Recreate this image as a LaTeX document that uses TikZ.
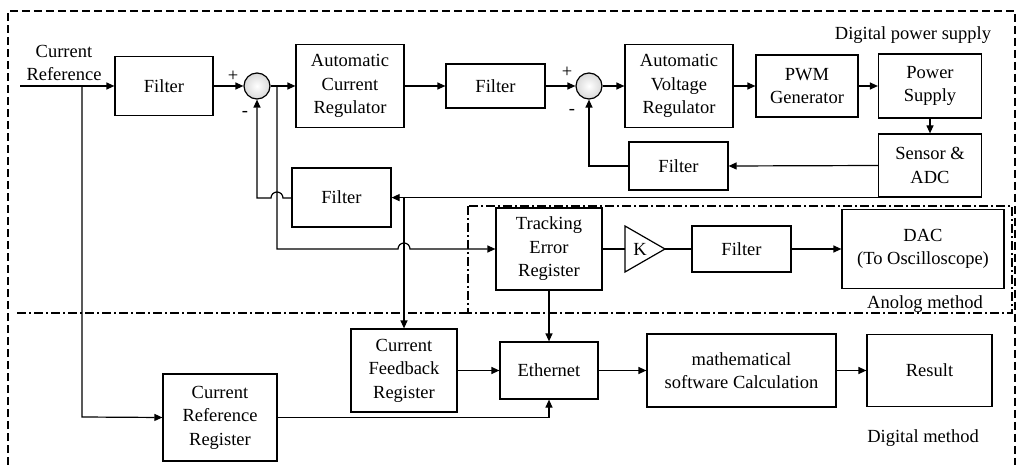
\documentclass[tikz,border=0pt]{standalone}
\usepackage{fontspec}
\setmainfont{Liberation Serif}
\usetikzlibrary{arrows.meta}
\begin{document}
\begin{tikzpicture}[x=1pt,y=-1pt,
  font=\fontsize{18.5}{23.5}\selectfont,
  line width=1.2pt,
  blk/.style={draw, fill=white, align=center, inner sep=1pt},
  sumc/.style={draw, circle, minimum size=26pt, inner sep=0pt, inner color=white, outer color=gray!30},
  arr/.style={-{Triangle[length=8pt,width=7pt]}},
  frame/.style={dash pattern=on 8pt off 4pt, line width=1.1pt},
  dashdot/.style={dash pattern=on 9pt off 3pt on 2pt off 3pt, line width=1.1pt}]
\useasboundingbox (0,0) rectangle (1018,465);
% frames
\draw[frame] (8,465) -- (8,11) -- (1015,11) -- (1015,465);
\draw[dashdot] (17,313) -- (468,313);
\draw[dashdot] (468,206) rectangle (1012,313);
\node (lbl1) at (913,35) {Digital power supply};
\node (lbl2) at (925,304) {Anolog method};
\node (lbl3) at (923,438) {Digital method};
% upper row
\node (inp) at (64,63) [align=center] {Current\\Reference};
\coordinate (in0) at (20,86);
\node[blk, minimum width=98pt, minimum height=59pt] (f1) at (164,86) {Filter};
\node[sumc] (s1) at (257,86) {};
\node (p1) at (233,76) {+};
\node (m1) at (245,114) {-};
\node[blk, minimum width=108pt, minimum height=83pt] (acr) at (350,86) {Automatic\\Current\\Regulator};
\node[blk, minimum width=99pt, minimum height=44pt] (f3) at (495.5,86) {Filter};
\node[sumc] (s2) at (589,86) {};
\node (p2) at (567,72) {+};
\node (m2) at (572,112) {-};
\node[blk, minimum width=108pt, minimum height=83pt] (avr) at (679,86) {Automatic\\Voltage\\Regulator};
\node[blk, minimum width=102pt, minimum height=62pt] (pwm) at (807,86) {PWM\\Generator};
\node[blk, minimum width=103pt, minimum height=64pt] (ps) at (930,86) {Power\\Supply};
\node[blk, minimum width=103pt, minimum height=63pt] (sen) at (930,165.5) {Sensor \&\\ADC};
\node[blk, minimum width=99pt, minimum height=48pt] (f4) at (678.5,166) {Filter};
\node[blk, minimum width=99pt, minimum height=59pt] (f2) at (341.5,197.5) {Filter};
% analog
\node[blk, minimum width=106pt, minimum height=82pt] (ter) at (549,249) {Tracking\\Error\\Register};
\draw[fill=white] (625,226) -- (665,249) -- (625,272) -- cycle;
\node (K) at (640,249) {K};
\coordinate (kin) at (625,249);
\coordinate (kout) at (665,249);
\node[blk, minimum width=99pt, minimum height=46pt] (f5) at (741.5,249) {Filter};
\node[blk, minimum width=162pt, minimum height=79pt] (dac) at (923,249) {DAC\\(To Oscilloscope)};
% digital
\node[blk, minimum width=106pt, minimum height=83pt] (cfr) at (404,370.5) {Current\\Feedback\\Register};
\node[blk, minimum width=98pt, minimum height=57pt] (eth) at (549,370.5) {Ethernet};
\node[blk, minimum width=189pt, minimum height=73pt] (math) at (741.5,370.5) {mathematical\\software Calculation};
\node[blk, minimum width=125pt, minimum height=72pt] (res) at (929.5,370.5) {Result};
\node[blk, minimum width=114pt, minimum height=87pt] (crr) at (220,417.5) {Current\\Reference\\Register};
% connectors
\draw[arr] (in0) -- (f1.west);
\draw[arr] (f1.east) -- (s1.west);
\draw[arr] (s1.east) -- (acr.west);
\draw[arr] (acr.east) -- (f3.west);
\draw[arr] (f3.east) -- (s2.west);
\draw[arr] (s2.east) -- (avr.west);
\draw[arr] (avr.east) -- (pwm.west);
\draw[arr] (pwm.east) -- (ps.west);
\draw[arr] (ps.south) -- (sen.north);
\draw[arr] (sen.west) -- (f4.east);
\draw[arr] (f4.west) -- (589,166) -- (s2.south);
\draw[arr] (sen.south west) -- (f2.east |- sen.south west);
\draw[arr] (f2.west |- 0,198) -- (283,198) arc[start angle=0,end angle=180,radius=6pt] -- (257,198) -- (s1.south);
\draw[arr] (277,86) -- (277,249) -- (398,249) arc[start angle=180,end angle=0,radius=6pt] -- (ter.west);
\draw[arr] (404,197) -- (cfr.north);
\draw[arr] (82,86) -- (82,417) -- (crr.west);
\draw[arr] (crr.east) -- (549,417.5) -- (eth.south);
\draw[arr] (ter.south) -- (eth.north);
\draw[arr] (cfr.east) -- (eth.west);
\draw[arr] (eth.east) -- (math.west);
\draw[arr] (math.east) -- (res.west);
\draw (ter.east) -- (kin);
\draw (kout) -- (f5.west);
\draw[arr] (f5.east) -- (dac.west);
\end{tikzpicture}
\end{document}
